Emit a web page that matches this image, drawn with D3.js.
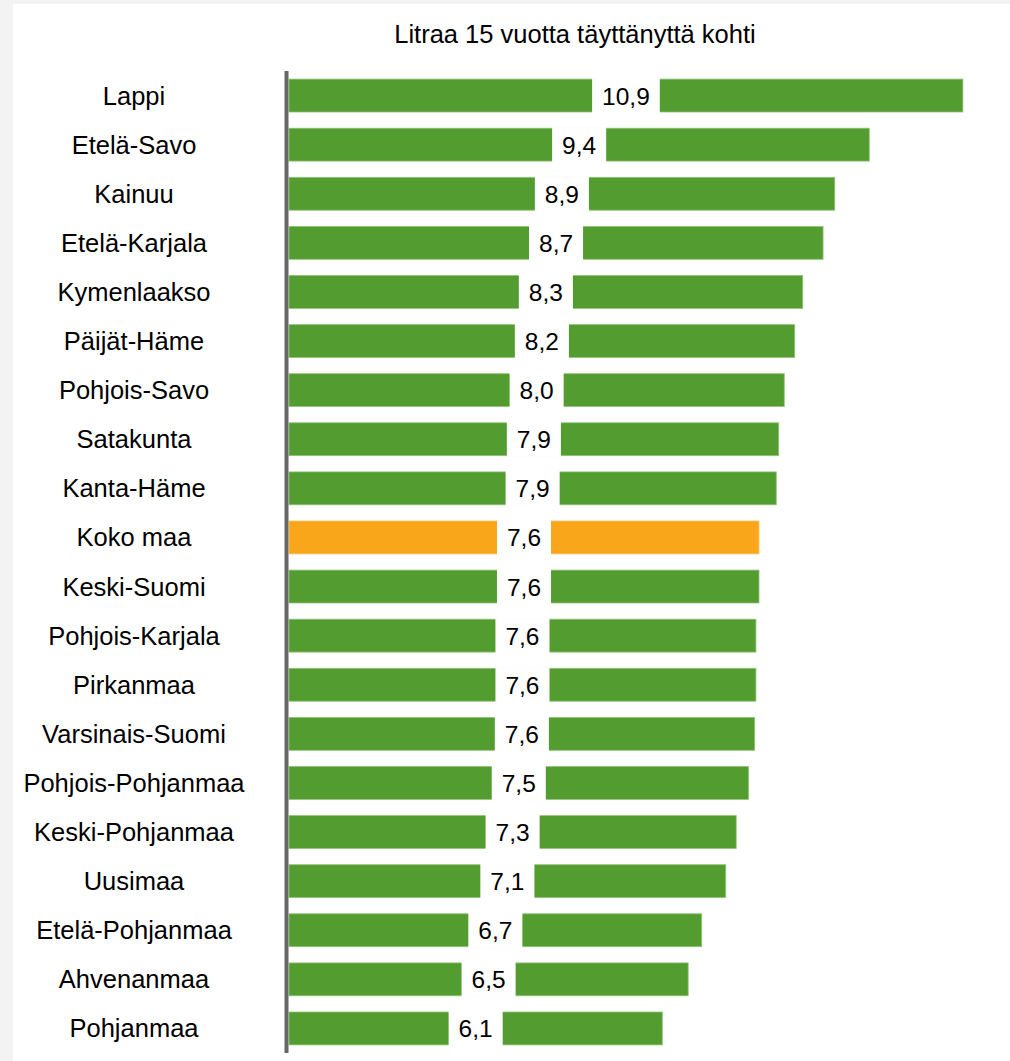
<!DOCTYPE html>
<html>
<head>
<meta charset="utf-8">
<script src="https://cdn.jsdelivr.net/npm/d3@7"></script>
<style>
  html, body { margin: 0; padding: 0; background: #f3f3f3; }
  svg { display: block; }
  text { font-family: "Liberation Sans", Arial, sans-serif; fill: #000; }
</style>
</head>
<body>
<script>
// alueet ja arvot (litraa 15 vuotta täyttänyttä kohti)
var regions = ["Lappi", "Etelä-Savo", "Kainuu", "Etelä-Karjala", "Kymenlaakso",
  "Päijät-Häme", "Pohjois-Savo", "Satakunta", "Kanta-Häme", "Koko maa",
  "Keski-Suomi", "Pohjois-Karjala", "Pirkanmaa", "Varsinais-Suomi", "Pohjois-Pohjanmaa",
  "Keski-Pohjanmaa", "Uusimaa", "Etelä-Pohjanmaa", "Ahvenanmaa", "Pohjanmaa"];
var values = [10.94, 9.42, 8.86, 8.67, 8.34, 8.21, 8.04, 7.95, 7.91, 7.63,
  7.63, 7.58, 7.58, 7.56, 7.46, 7.26, 7.09, 6.70, 6.48, 6.06];
var labels = ["10,9", "9,4", "8,9", "8,7", "8,3", "8,2", "8,0", "7,9", "7,9", "7,6",
  "7,6", "7,6", "7,6", "7,6", "7,5", "7,3", "7,1", "6,7", "6,5", "6,1"];
var title = "Litraa 15 vuotta täyttänyttä kohti";

var data = regions.map(function(r, i) { return {name: r, value: values[i], label: labels[i]}; });

var width = 1010, height = 1061;
var svg = d3.select("body").append("svg").attr("width", width).attr("height", height);

// valkoinen pohja
svg.append("rect").attr("x", 13).attr("y", 4).attr("width", width - 13).attr("height", height - 4)
  .attr("fill", "#fff");

var x = d3.scaleLinear().domain([0, 11]).range([289, 289 + 11 * 61.6]);
var y = d3.scaleBand().domain(regions).range([71, 1053]).paddingInner(0.33).paddingOuter(0.165);

svg.append("text")
  .attr("x", 575).attr("y", 43)
  .attr("text-anchor", "middle")
  .style("font-size", "25.5px")
  .text(title);

var row = svg.selectAll(".row")
  .data(data)
  .enter().append("g")
  .attr("class", "row");

row.append("rect")
  .attr("x", x(0))
  .attr("y", function(d) { return y(d.name); })
  .attr("width", function(d) { return x(d.value) - x(0); })
  .attr("height", y.bandwidth())
  .attr("fill", function(d) { return d.name == "Koko maa" ? "#f9a61b" : "#529c30"; })
  .attr("stroke", function(d) { return d.name == "Koko maa" ? "#fbc469" : "#93c47a"; })
  .attr("stroke-width", 0.8);

// arvo palkin keskellä valkoisella taustalla
var lab = row.append("g")
  .attr("transform", function(d) {
    return "translate(" + (x(0) + x(d.value)) / 2 + "," + (y(d.name) + y.bandwidth() / 2) + ")";
  });

var txt = lab.append("text")
  .attr("y", 9)
  .attr("text-anchor", "middle")
  .style("font-size", "24.5px")
  .text(function(d) { return d.label; });

lab.insert("rect", "text")
  .attr("x", function() { var w = this.parentNode.querySelector("text").getComputedTextLength(); return -w / 2 - 10; })
  .attr("y", -y.bandwidth() / 2 - 1)
  .attr("width", function() { return this.parentNode.querySelector("text").getComputedTextLength() + 20; })
  .attr("height", y.bandwidth() + 2)
  .attr("fill", "#fff");

row.append("text")
  .attr("x", 134)
  .attr("y", function(d) { return y(d.name) + y.bandwidth() / 2 + 9; })
  .attr("text-anchor", "middle")
  .style("font-size", "25.5px")
  .text(function(d) { return d.name; });

// pystyakseli
svg.append("line")
  .attr("x1", 286.5).attr("x2", 286.5)
  .attr("y1", 71).attr("y2", 1053)
  .attr("stroke", "#666").attr("stroke-width", 4);
</script>
</body>
</html>
